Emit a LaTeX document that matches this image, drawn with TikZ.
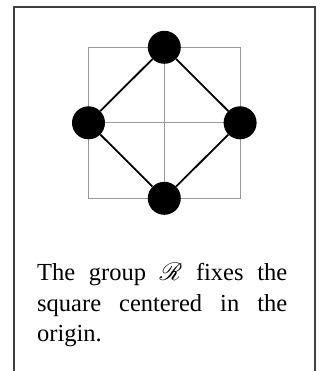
\documentclass[tikz,border=0pt]{standalone}
\usepackage{fontspec}
\setmainfont{Liberation Serif}
\usepackage{mathrsfs}
\newcommand{\captionfont}{\fontsize{24.5pt}{30.5pt}\selectfont\hyphenpenalty=10000\exhyphenpenalty=10000\relax}
\tikzset{
  frameline/.style={draw=black!75, line width=1.1pt},
  gridline/.style={draw=black!40, line width=0.9pt},
  dot/.style={circle, fill=black, minimum size=33pt, inner sep=0pt},
  edge/.style={draw=black, line width=1.8pt},
  caption/.style={anchor=base west, inner sep=0pt, text width=250pt, align=justify, font=\captionfont}
}
\begin{document}
\begin{tikzpicture}[x=1pt, y=-1pt]
\useasboundingbox (0,0) rectangle (321,371);
\fill[white] (0,0) rectangle (321,371);
\draw[frameline] (14,371) -- (14,7) -- (315,7) -- (315,371);
% grid square
\coordinate (c) at (164.3,122.8);
\draw[gridline] (88.5,47.3) rectangle (240.1,198.3);
\draw[gridline] (88.5,122.8) -- (240.1,122.8);
\draw[gridline] (164.3,47.3) -- (164.3,198.3);
% vertices
\node[dot] (t) at (164.3,47.3) {};
\node[dot] (r) at (240.1,122.8) {};
\node[dot] (b) at (164.3,198.3) {};
\node[dot] (l) at (88.5,122.8) {};
\draw[edge] (t) -- (r) -- (b) -- (l) -- (t);
\node[caption] (txt) at (37,280.7) {The group $\mathscr{R}$ fixes the square centered in the origin.};
\end{tikzpicture}
\end{document}
